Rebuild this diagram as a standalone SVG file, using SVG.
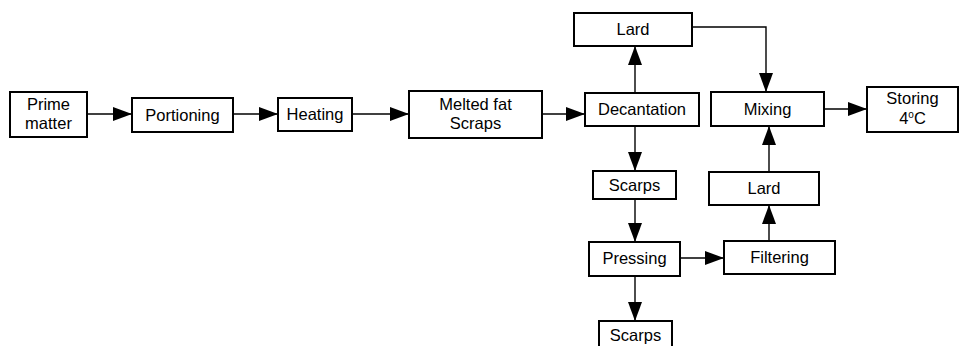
<svg xmlns="http://www.w3.org/2000/svg" width="963" height="346" viewBox="0 0 963 346">
<style>
.box{fill:#fff;stroke:#000;stroke-width:2}
.t{font-family:"Liberation Sans",Arial,sans-serif;font-size:16.5px;fill:#000;text-anchor:middle}
.c{fill:none;stroke:#000;stroke-width:1.4}
</style>
<defs>
<marker id="ah" markerUnits="userSpaceOnUse" markerWidth="19" markerHeight="14" refX="18" refY="7" orient="auto">
<path d="M0,0 L19,7 L0,14 Z" fill="#000"/>
</marker>
</defs>
<rect width="963" height="346" fill="#fff"/>
<g id="connectors">
<path class="c" d="M87,114 H131" marker-end="url(#ah)"/>
<path class="c" d="M233,114 H277" marker-end="url(#ah)"/>
<path class="c" d="M352,114 H408" marker-end="url(#ah)"/>
<path class="c" d="M542,114 H584" marker-end="url(#ah)"/>
<path class="c" d="M635,93 V47" marker-end="url(#ah)"/>
<path class="c" d="M692,27 H766 V91" marker-end="url(#ah)"/>
<path class="c" d="M824,109 H866" marker-end="url(#ah)"/>
<path class="c" d="M635,126 V170" marker-end="url(#ah)"/>
<path class="c" d="M635,199 V241" marker-end="url(#ah)"/>
<path class="c" d="M680,258 H723" marker-end="url(#ah)"/>
<path class="c" d="M635,276 V320" marker-end="url(#ah)"/>
<path class="c" d="M769,241 V206" marker-end="url(#ah)"/>
<path class="c" d="M769,172 V127" marker-end="url(#ah)"/>
</g>
<g id="prime"><rect class="box" x="10" y="92" width="77" height="45"/><text class="t" x="48.5" y="110">Prime</text><text class="t" x="48.5" y="129">matter</text></g>
<g id="portioning"><rect class="box" x="132" y="98" width="101" height="34"/><text class="t" x="182.5" y="121">Portioning</text></g>
<g id="heating"><rect class="box" x="278" y="98" width="74" height="33"/><text class="t" x="315" y="120">Heating</text></g>
<g id="melted"><rect class="box" x="409" y="91" width="133" height="47"/><text class="t" x="475.5" y="110">Melted fat</text><text class="t" x="475.5" y="129">Scraps</text></g>
<g id="decantation"><rect class="box" x="585" y="93" width="114" height="33"/><text class="t" x="642" y="115">Decantation</text></g>
<g id="lard1"><rect class="box" x="574" y="13" width="118" height="33"/><text class="t" x="633" y="35">Lard</text></g>
<g id="mixing"><rect class="box" x="711" y="92" width="113" height="34"/><text class="t" x="767.5" y="115">Mixing</text></g>
<g id="storing"><rect class="box" x="867" y="87" width="91" height="45"/><text class="t" x="912.5" y="104">Storing</text><text class="t" x="912.5" y="124">4<tspan font-size="10" dy="-6">o</tspan><tspan dy="6">C</tspan></text></g>
<g id="scarps1"><rect class="box" x="593" y="171" width="83" height="28"/><text class="t" x="634.5" y="191">Scarps</text></g>
<g id="lard2"><rect class="box" x="709" y="172" width="110" height="33"/><text class="t" x="764" y="194">Lard</text></g>
<g id="pressing"><rect class="box" x="589" y="242" width="91" height="34"/><text class="t" x="634.5" y="264">Pressing</text></g>
<g id="filtering"><rect class="box" x="724" y="241" width="111" height="33"/><text class="t" x="779.5" y="263">Filtering</text></g>
<g id="scarps2"><rect class="box" x="599" y="321" width="73" height="30"/><text class="t" x="635.5" y="341">Scarps</text></g>
</svg>
